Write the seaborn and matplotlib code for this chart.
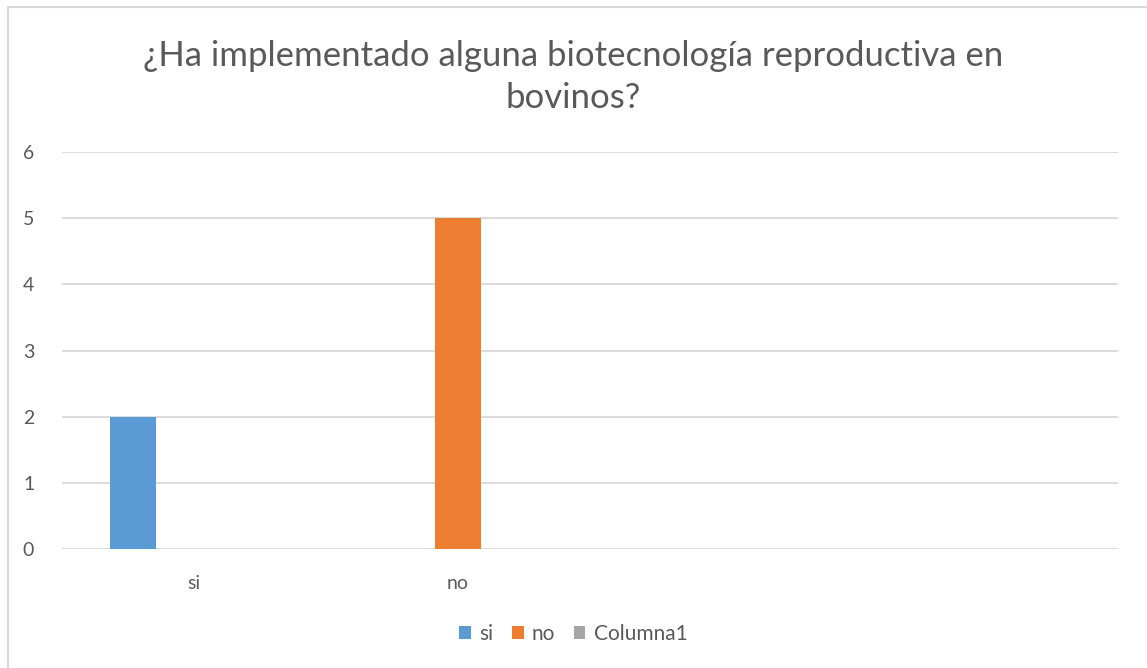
import matplotlib
matplotlib.use("Agg")
import matplotlib.pyplot as plt
from matplotlib.patches import Patch
from matplotlib.lines import Line2D
import seaborn as sns
import pandas as pd

# data
categories = ["si", "no", "cat3", "cat4"]
cat_labels = ["si", "no", "", ""]
series = ["si", "no", "Columna1"]
bar_cat = ["si", "no"]
bar_series = ["si", "no"]
bar_values = [2, 5]
colors = ["#5b9bd5", "#ed7d31", "#a5a5a5"]
title = "¿Ha implementado alguna biotecnología reproductiva en\nbovinos?"

df = pd.DataFrame({"cat": bar_cat, "serie": bar_series, "valor": bar_values})
df["cat"] = pd.Categorical(df["cat"], categories=categories)

sns.set_style("white")
plt.rcParams["font.family"] = ["Lato", "DejaVu Sans"]

W, H = 1147, 668
fig = plt.figure(figsize=(W / 100, H / 100), dpi=100)
ax = fig.add_axes([62 / W, 1 - 549 / H, (1118 - 62) / W, (549 - 152) / H])

sns.barplot(data=df, x="cat", y="valor", hue="serie", order=categories,
            hue_order=series, palette=colors, width=0.693, gap=0.25,
            ax=ax, legend=False, saturation=1, linewidth=0)

ax.set_ylim(0, 6)
ax.set_yticks(range(0, 7))
ax.set_xticks(range(len(categories)))
ax.set_xticklabels(cat_labels)
ax.set_xlim(-0.5, len(categories) - 0.5)
ax.set_xlabel("")
ax.set_ylabel("")
ax.grid(axis="y", color="#d9d9d9", linewidth=1.3)
ax.set_axisbelow(True)
for s in ax.spines.values():
    s.set_visible(False)
ax.tick_params(axis="both", length=0, labelsize=14, colors="#595959")
ax.tick_params(axis="y", pad=20)
ax.tick_params(axis="x", pad=19)

fig.text(0.5, 1 - 77 / H, title, ha="center", va="center", fontsize=25,
         color="#595959", linespacing=1.4)

handles = [Patch(facecolor=c, edgecolor="none") for c in colors]
fig.legend(handles, series, loc="center", bbox_to_anchor=(0.5, 1 - 634 / H),
           ncol=3, frameon=False, fontsize=15, handlelength=0.55,
           handleheight=0.55, handletextpad=0.4, columnspacing=0.9,
           labelcolor="#595959")

# outer chart border (left and top)
fig.add_artist(Line2D([8 / W, 8 / W], [0, 1 - 7 / H], transform=fig.transFigure,
                      color="#d9d9d9", linewidth=1.5))
fig.add_artist(Line2D([8 / W, 1146 / W], [1 - 7 / H, 1 - 7 / H],
                      transform=fig.transFigure, color="#d9d9d9", linewidth=1.5))

fig.savefig("out.png", dpi=100)
